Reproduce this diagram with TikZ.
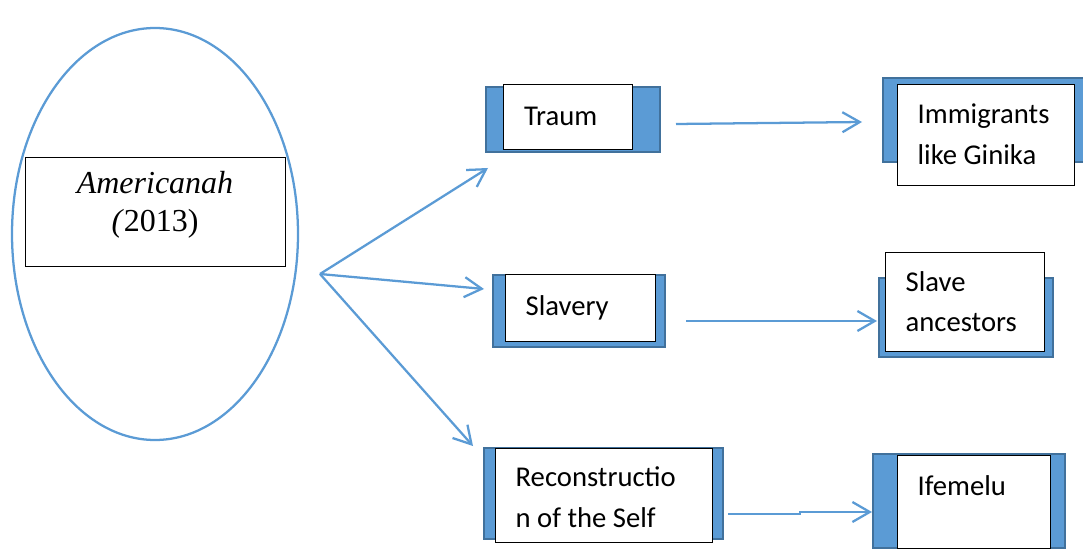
\documentclass[tikz,border=0pt]{standalone}
\usepackage{fontspec}
\setmainfont{Carlito}
\newfontfamily\serifrm{Liberation Serif}
\usetikzlibrary{positioning,calc,arrows.meta,shapes.geometric}
\definecolor{lineblue}{HTML}{5B9BD5}
\definecolor{edgeblue}{HTML}{41719C}
\newcommand*{\boxtxt}{\fontsize{21.5}{30.5}\selectfont}

\begin{document}
\begin{tikzpicture}[x=0.75pt,y=-0.75pt,
  tab/.style={draw=edgeblue,fill=lineblue,line width=1.5pt,inner sep=0pt},
  card/.style={draw=black,fill=white,line width=0.7pt,inner xsep=15.5pt,
               inner ysep=0pt,align=flush left,font=\boxtxt},
  link/.style={lineblue,line width=1.7pt,
               -{Straight Barb[length=13pt,width=15pt,line width=1.7pt]}}]
\useasboundingbox (0,0) rectangle (1083,549);
% The novel on the left
\node[ellipse,draw=lineblue,line width=1.7pt,minimum width=214.5pt,
      minimum height=309pt] (novel) at (155,234) {};
\node[draw=black,line width=0.7pt,minimum width=195pt,minimum height=81.75pt,
      align=center,font=\serifrm\fontsize{24}{28.5}\selectfont] (title) at (155,211.5)
      {\itshape Americanah\\\textit{(}2013)\rule[-15.5pt]{0pt}{0pt}};
% Middle column: blue tab behind, white card in front
\node[tab,minimum width=130.5pt,minimum height=48.75pt] (traum tab) at (573,119.5) {};
\node[card,text width=66pt,minimum height=48.75pt] (traum) at (568,116.5) {Traum};
\node[tab,minimum width=129pt,minimum height=54pt] (slavery tab) at (579,311) {};
\node[card,text width=81.5pt,minimum height=50.25pt] (slavery) at (580,307.5) {Slavery};
\node[tab,minimum width=179.25pt,minimum height=68.25pt] (recon tab) at (603.5,493.5) {};
\node[card,text width=131.75pt,minimum height=70.5pt] (recon) at (603.5,495)
      {\rule{0pt}{18pt}Reconstructio\\n of the Self};
% Right column
\node[tab,minimum width=150.75pt,minimum height=63pt] (ginika tab) at (983.5,120) {};
\node[card,text width=101.75pt,minimum height=75.75pt] (ginika) at (985.5,134.5)
      {Immigrants\\like Ginika};
\node[tab,minimum width=130.5pt,minimum height=59.25pt] (ancestors tab) at (966,317.5) {};
\node[card,text width=88.25pt,minimum height=74.25pt] (ancestors) at (964.5,301.5)
      {Slave\\ancestors};
\node[tab,minimum width=144pt,minimum height=70.5pt] (ifemelu tab) at (969,501) {};
\node[card,text width=83.75pt,minimum height=69.75pt] (ifemelu) at (973.5,501.5)
      {\rule{0pt}{22pt}Ifemelu\\\mbox{}};
% Arrow ends
\coordinate (fan) at (320,274);
\coordinate (to traum) at (488,168);
\coordinate (to slavery) at (484,289);
\coordinate (to recon) at (473,446);
\coordinate (traum out) at (676,124);
\coordinate (ginika in) at (862,122);
\coordinate (slavery out) at (686,321);
\coordinate (ancestors in) at (877,321);
\coordinate (recon out) at (728,514);
\coordinate (ifemelu in) at (872,512);
% Arrows
\draw[link] (fan) -- (to traum);
\draw[link] (fan) -- (to slavery);
\draw[link] (fan) -- (to recon);
\draw[link] (traum out) -- (ginika in);
\draw[link] (slavery out) -- (ancestors in);
\draw[link] (recon out) -- (recon out -| 800,0) -- (800,512) -- (ifemelu in);
\end{tikzpicture}
\end{document}
